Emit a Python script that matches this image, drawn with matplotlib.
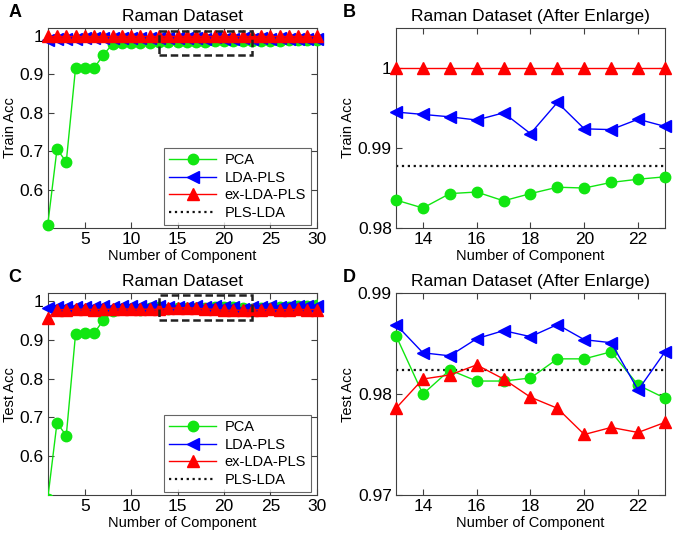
import matplotlib
matplotlib.use('Agg')
import matplotlib.pyplot as plt
from matplotlib.patches import Rectangle
from matplotlib.ticker import FormatStrFormatter
import numpy as np

plt.rcParams['font.family'] = ['Liberation Sans', 'DejaVu Sans']

comp = list(range(1, 31))

# train accuracy (panel A / B)
train_pca = [0.508, 0.705, 0.672, 0.916, 0.915, 0.916, 0.950, 0.979, 0.980, 0.980,
             0.981, 0.982, 0.9835, 0.9825, 0.9843, 0.9845, 0.9834, 0.9843, 0.9851, 0.9850,
             0.9857, 0.9861, 0.9864, 0.9866, 0.9870, 0.9873, 0.9877, 0.9880, 0.9884, 0.9888]
train_lda = [0.990, 0.991, 0.992, 0.992, 0.993, 0.993, 0.994, 0.994, 0.9945, 0.9943,
             0.9946, 0.9944, 0.9945, 0.9942, 0.9939, 0.9935, 0.9944, 0.9918, 0.9957, 0.9924,
             0.9923, 0.9936, 0.9927, 0.9930, 0.9925, 0.9928, 0.9922, 0.9926, 0.9920, 0.9924]
train_ex = [1.0] * 30
train_pls = 0.9877

# test accuracy (panel C / D)
test_pca = [0.490, 0.686, 0.653, 0.915, 0.917, 0.917, 0.951, 0.974, 0.979, 0.980,
            0.978, 0.981, 0.9858, 0.9800, 0.9824, 0.9813, 0.9813, 0.9816, 0.9835, 0.9835,
            0.9842, 0.9809, 0.9796, 0.9810, 0.9830, 0.9840, 0.9850, 0.9870, 0.9880, 0.9900]
test_lda = [0.983, 0.984, 0.985, 0.985, 0.984, 0.985, 0.986, 0.985, 0.986, 0.987,
            0.986, 0.986, 0.9869, 0.9841, 0.9838, 0.9855, 0.9863, 0.9857, 0.9869, 0.9854,
            0.9851, 0.9804, 0.9842, 0.9850, 0.9860, 0.9855, 0.9860, 0.9870, 0.9865, 0.9870]
test_ex = [0.957, 0.977, 0.978, 0.979, 0.979, 0.978, 0.979, 0.979, 0.980, 0.979,
           0.979, 0.979, 0.9786, 0.9815, 0.9819, 0.9829, 0.9815, 0.9797, 0.9786, 0.9760,
           0.9767, 0.9762, 0.9772, 0.9780, 0.9785, 0.9775, 0.9780, 0.9785, 0.9780, 0.9782]
test_pls = 0.9824

GREEN = '#11e611'
BLUE = '#0000ff'
RED = '#ff0000'
EDGE = '#404040'


def draw(ax, x, pca, lda, ex, pls, clip_pca=False):
    ax.axhline(pls, color='#111111', ls=':', lw=1.6, zorder=1, label='PLS-LDA')
    ax.plot(x, pca, '-o', color=GREEN, mfc=GREEN, mec=GREEN, ms=7.5, lw=1,
            clip_on=clip_pca, zorder=3, label='PCA')
    ax.plot(x, lda, '-<', color=BLUE, mfc=BLUE, mec=BLUE, ms=8.5, lw=1,
            clip_on=False, zorder=4, label='LDA-PLS')
    ax.plot(x, ex, '-^', color=RED, mfc=RED, mec=RED, ms=8.5, lw=1,
            clip_on=False, zorder=5, label='ex-LDA-PLS')


def style(ax):
    ax.tick_params(direction='in', top=True, right=True, labelsize=12.5,
                   length=4, color=EDGE, pad=3)
    for s in ax.spines.values():
        s.set_color(EDGE)
        s.set_linewidth(0.8)
    ax.yaxis.set_major_formatter(FormatStrFormatter('%g'))
    ax.set_xlabel('Number of Component', fontsize=10.5, labelpad=1)


fig = plt.figure(figsize=(6.73, 5.36), dpi=100)
axA = fig.add_axes([0.0709, 0.5746, 0.3997, 0.3731])
axB = fig.add_axes([0.5884, 0.5746, 0.3997, 0.3731])
axC = fig.add_axes([0.0709, 0.0765, 0.3997, 0.3763])
axD = fig.add_axes([0.5884, 0.0765, 0.3997, 0.3763])

# panel A
draw(axA, comp, train_pca, train_lda, train_ex, train_pls)
axA.set_xlim(1, 30)
axA.set_ylim(0.5, 1.02)
axA.set_xticks([5, 10, 15, 20, 25, 30])
axA.set_yticks([0.6, 0.7, 0.8, 0.9, 1.0])
axA.set_ylabel('Train Acc', fontsize=10.5, labelpad=2)
axA.add_patch(Rectangle((13, 0.95), 10, 0.063, fill=False, ec='#222222',
                        ls=(0, (3, 1.5)), lw=1.8, zorder=6))

# panel B
sub = slice(12, 23)
draw(axB, comp[sub], train_pca[sub], train_lda[sub], train_ex[sub], train_pls)
axB.set_xlim(13, 23)
axB.set_ylim(0.98, 1.005)
axB.set_xticks([14, 16, 18, 20, 22])
axB.set_yticks([0.98, 0.99, 1.0])
axB.set_ylabel('Train Acc', fontsize=10.5, labelpad=2)

# panel C
draw(axC, comp, test_pca, test_lda, test_ex, test_pls, clip_pca=True)
axC.set_xlim(1, 30)
axC.set_ylim(0.5, 1.02)
axC.set_xticks([5, 10, 15, 20, 25, 30])
axC.set_yticks([0.6, 0.7, 0.8, 0.9, 1.0])
axC.set_ylabel('Test Acc', fontsize=10.5, labelpad=2)
axC.add_patch(Rectangle((13, 0.951), 10, 0.064, fill=False, ec='#222222',
                        ls=(0, (3, 1.5)), lw=1.8, zorder=6))

# panel D
draw(axD, comp[sub], test_pca[sub], test_lda[sub], test_ex[sub], test_pls)
axD.set_xlim(13, 23)
axD.set_ylim(0.97, 0.99)
axD.set_xticks([14, 16, 18, 20, 22])
axD.set_yticks([0.97, 0.98, 0.99])
axD.set_ylabel('Test Acc', fontsize=10.5, labelpad=2)

for ax in (axA, axB, axC, axD):
    style(ax)

axA.set_title('Raman Dataset', fontsize=12.5, pad=5)
axB.set_title('Raman Dataset (After Enlarge)', fontsize=12.5, pad=5)
axC.set_title('Raman Dataset', fontsize=12.5, pad=5)
axD.set_title('Raman Dataset (After Enlarge)', fontsize=12.5, pad=5)

for ax in (axA, axC):
    h, l = ax.get_legend_handles_labels()
    order = [1, 2, 3, 0]
    leg = ax.legend([h[i] for i in order], [l[i] for i in order], loc='lower right',
                    bbox_to_anchor=(0.99, 0.0), fontsize=10.5, handlelength=3.2,
                    frameon=True, fancybox=False, borderpad=0.35, labelspacing=0.25,
                    handletextpad=0.6, borderaxespad=0.2)
    leg.get_frame().set_edgecolor(EDGE)
    leg.get_frame().set_linewidth(0.8)

for lbl, x, y in [('A', 0.012, 0.976), ('B', 0.510, 0.976),
                  ('C', 0.012, 0.482), ('D', 0.510, 0.482)]:
    fig.text(x, y, lbl, fontsize=13, fontweight='bold', va='center')

fig.savefig('out.png', dpi=100)
